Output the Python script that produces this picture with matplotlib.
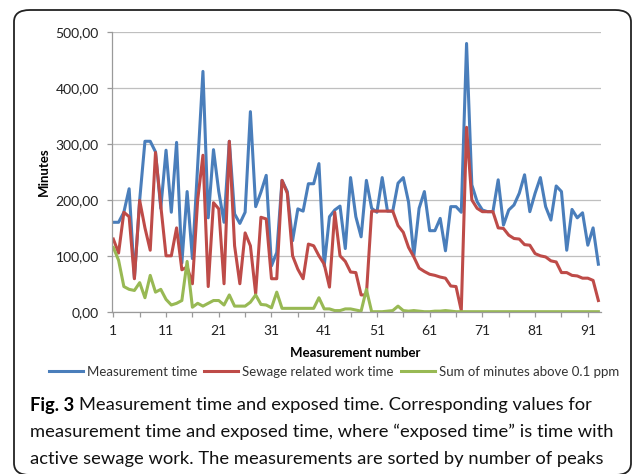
import numpy as np
import matplotlib.pyplot as plt
from matplotlib.patches import FancyBboxPatch
from matplotlib.ticker import FuncFormatter

# Data (minutes)
measurement_time = [160, 160, 178, 220, 60, 200, 305, 305, 286, 185,
                    289, 178, 303, 87, 215, 95, 262, 430, 168, 290,
                    215, 160, 305, 175, 158, 178, 358, 188, 214, 244,
                    82, 106, 235, 215, 127, 184, 180, 229, 229, 265,
                    82, 170, 182, 189, 113, 240, 170, 134, 235, 185,
                    178, 240, 180, 180, 230, 240, 196, 100, 185, 215,
                    145, 145, 167, 109, 188, 188, 178, 480, 227, 197,
                    182, 179, 179, 236, 155, 182, 191, 212, 245, 179,
                    212, 240, 188, 164, 225, 215, 110, 183, 168, 177,
                    119, 150, 85]
sewage_work_time = [130, 105, 178, 170, 59, 199, 150, 110, 285, 190,
                    100, 100, 150, 75, 80, 50, 200, 280, 45, 195,
                    184, 50, 305, 118, 50, 141, 118, 32, 169, 166,
                    59, 59, 235, 212, 100, 76, 59, 121, 118, 100,
                    85, 44, 178, 100, 90, 71, 70, 30, 30, 180,
                    180, 180, 180, 180, 154, 142, 115, 98, 78, 72,
                    67, 65, 62, 60, 46, 45, 2, 330, 200, 185,
                    179, 179, 179, 150, 149, 137, 131, 130, 120, 119,
                    104, 100, 98, 91, 89, 70, 70, 65, 64, 60,
                    60, 56, 20]
minutes_above = [115, 92, 45, 40, 38, 52, 25, 65, 35, 40,
                 22, 12, 15, 20, 90, 8, 15, 10, 15, 20,
                 20, 12, 30, 10, 10, 10, 17, 30, 13, 12,
                 7, 35, 6, 6, 6, 6, 6, 6, 6, 25,
                 5, 5, 2, 2, 5, 5, 3, 1, 40, 0,
                 0, 0, 1, 2, 10, 2, 1, 2, 1, 0,
                 0, 1, 1, 2, 1] + [0] * 28
x = np.arange(1, len(measurement_time) + 1)

caption_lines = [
    'Measurement time and exposed time. Corresponding values for',
    'measurement time and exposed time, where \u201cexposed time\u201d is time with',
    'active sewage work. The measurements are sorted by number of peaks',
]

plt.rcParams['font.family'] = ['Lato', 'DejaVu Sans']

W, H = 633, 474
fig = plt.figure(figsize=(W / 100, H / 100), dpi=100)

# Rounded frame around the figure
frame = FancyBboxPatch((14 / W, 1 - 475 / H), (631 - 14) / W, (475 - 10) / H,
                       boxstyle='round,pad=0,rounding_size=0.025',
                       transform=fig.transFigure, fill=False,
                       edgecolor='#222222', linewidth=1.3)
fig.patches.append(frame)

ax = fig.add_axes([112 / W, 1 - 311.7 / H, (601 - 112) / W, (311.7 - 32.3) / H])

ax.plot(x, measurement_time, color='#4A7EBB', lw=2.2, label='Measurement time')
ax.plot(x, sewage_work_time, color='#BE4B48', lw=2.2, label='Sewage related work time')
ax.plot(x, minutes_above, color='#98B954', lw=2.2, label='Sum of minutes above 0.1 ppm')

ax.set_xlim(0.75, 93.5)
ax.set_ylim(0, 500)
ax.set_yticks(np.arange(0, 501, 100))
ax.yaxis.set_major_formatter(FuncFormatter(lambda v, p: f'{v:.2f}'.replace('.', ',')))
ax.set_xticks(np.arange(1, 94, 10))
ax.set_xticks(np.arange(6, 94, 10), minor=True)

ax.grid(axis='y', color='#BFBFBF', lw=0.9)
ax.set_axisbelow(True)
for s in ['top', 'right']:
    ax.spines[s].set_visible(False)
for s in ['left', 'bottom']:
    ax.spines[s].set_color('#9A9A9A')
    ax.spines[s].set_linewidth(0.9)
ax.tick_params(axis='y', length=3.6, width=0.9, color='#9A9A9A', pad=6,
               labelsize=10, labelcolor='#222222')
ax.tick_params(axis='x', which='both', length=3.5, width=0.9, color='#9A9A9A',
               pad=6, labelsize=10, labelcolor='#222222')

fig.text(44 / W, 1 - 172 / H, 'Minutes', rotation=90, fontsize=9.5,
         fontweight='bold', ha='center', va='center')
fig.text(355 / W, 1 - 352.7 / H, 'Measurement number', fontsize=9.5,
         fontweight='bold', ha='center', va='center')

fig.legend(loc='center', bbox_to_anchor=(334 / W, 1 - 371.7 / H), ncol=3,
           frameon=False, fontsize=9.5, handlelength=2.6, handletextpad=0.3,
           columnspacing=0.5, labelcolor='#333333')

# Caption: size chosen so the second line spans the same width as the original
fig.canvas.draw()
r = fig.canvas.get_renderer()
probe = fig.text(0, 0, caption_lines[1], fontsize=15)
cap_size = 15 * 584 / probe.get_window_extent(renderer=r).width
probe.remove()

t = fig.text(30 / W, 1 - 405 / H, 'Fig. 3', fontsize=cap_size, fontweight='bold',
             va='center')
bb = t.get_window_extent(renderer=r)
fig.text((bb.x1 + 5) / W, 1 - 405 / H, caption_lines[0], fontsize=cap_size,
         va='center', color='#111111')
fig.text(30 / W, 1 - 432 / H, caption_lines[1], fontsize=cap_size,
         va='center', color='#111111')
fig.text(30 / W, 1 - 459 / H, caption_lines[2], fontsize=cap_size,
         va='center', color='#111111')

fig.savefig('out.png', dpi=100)
